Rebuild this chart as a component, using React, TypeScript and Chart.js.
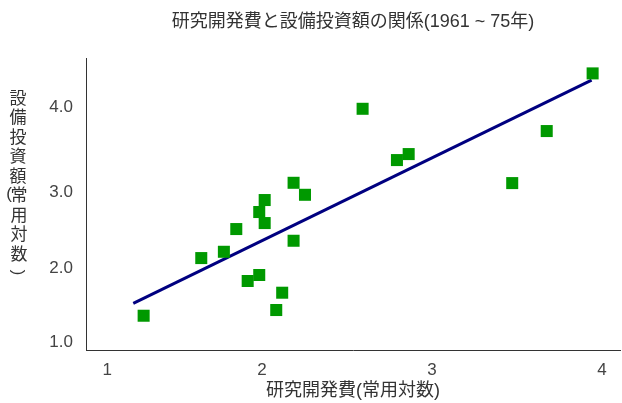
import React, { useEffect, useRef } from "react";
import { Chart, registerables } from "chart.js";

Chart.register(...registerables);

// 研究開発費 (常用対数) — x values of the scatter points
const rdLog = [
  1.304, 1.643, 1.776, 1.849, 1.916, 1.984, 1.984, 2.016, 2.016, 2.084,
  2.119, 2.186, 2.186, 2.253, 2.592, 2.794, 2.863, 3.472, 3.675, 3.945,
];
// 設備投資額 (常用対数) — y values of the scatter points
const capexLog = [
  1.364, 2.133, 2.217, 2.52, 1.827, 1.907, 2.747, 2.6, 2.907, 1.44,
  1.671, 3.137, 2.364, 2.977, 4.124, 3.44, 3.52, 3.133, 3.827, 4.596,
];
// regression line end points
const fitX = [1.243, 3.939];
const fitY = [1.529, 4.507];

// tick values and labels
const xTickValues = [1.09, 2, 3, 4];
const xTickLabels = ["1", "2", "3", "4"];
const yTickValues = [1.01, 2, 3.01, 4.15];
const yTickLabels = ["1.0", "2.0", "3.0", "4.0"];
const xRange = [0.965, 4.106];
const yRange = [0.907, 4.8];

const titleText = "研究開発費と設備投資額の関係(1961 ~ 75年)";
const xTitleText = "研究開発費(常用対数)";
const yTitleHead = ["設", "備", "投", "資", "額"];
const yTitleTail = ["常", "用", "対", "数"];

const FONT = "'Liberation Sans', 'Noto Sans CJK JP', sans-serif";

const verticalTitle = {
  id: "verticalTitle",
  afterDraw(chart: any) {
    const ctx = chart.ctx;
    ctx.save();
    ctx.fillStyle = "#333";
    ctx.font = "17px " + FONT;
    ctx.textAlign = "center";
    ctx.textBaseline = "middle";
    const x = 18;
    const y0 = 99;
    const step = 19.5;
    yTitleHead.forEach((c, i) => ctx.fillText(c, x, y0 + i * step));
    // opening parenthesis, squeezed in at the left of the next character
    ctx.fillText("(", 9, y0 + 5 * step - 2);
    yTitleTail.forEach((c, i) => ctx.fillText(c, x + 1, y0 + (5 + i) * step));
    // closing parenthesis, rotated
    ctx.save();
    ctx.translate(x, y0 + 8.9 * step);
    ctx.rotate(Math.PI / 2);
    ctx.fillText(")", 0, 0);
    ctx.restore();
    ctx.restore();
  },
};

export default function App() {
  const ref = useRef<HTMLCanvasElement | null>(null);

  useEffect(() => {
    if (!ref.current) return;
    const points = rdLog.map((x, i) => ({ x, y: capexLog[i] }));
    const fit = fitX.map((x, i) => ({ x, y: fitY[i] }));
    const chart = new Chart(ref.current, {
      type: "scatter",
      data: {
        datasets: [
          {
            data: points,
            pointStyle: "rect",
            pointRadius: 8.5,
            pointHoverRadius: 8.5,
            backgroundColor: "#009900",
            borderColor: "#009900",
            borderWidth: 0,
          },
          {
            type: "line",
            data: fit,
            borderColor: "#000080",
            borderWidth: 3,
            pointRadius: 0,
            showLine: true,
            fill: false,
          } as any,
        ],
      },
      options: {
        animation: false,
        responsive: false,
        events: [],
        layout: { autoPadding: false, padding: { left: 0, right: 2, top: 0, bottom: 0 } },
        plugins: {
          legend: { display: false },
          tooltip: { enabled: false },
          title: {
            display: true,
            text: titleText,
            fullSize: false,
            color: "#333",
            font: { family: FONT, size: 18, weight: "normal" },
            padding: { top: 11.5, bottom: 25 },
          },
        },
        scales: {
          x: {
            type: "linear",
            min: xRange[0],
            max: xRange[1],
            grid: { display: false, drawTicks: false },
            border: { display: true, color: "#333", width: 1 },
            afterBuildTicks: (s: any) => {
              s.ticks = xTickValues.map((v) => ({ value: v }));
            },
            afterFit: (s: any) => {
              s.height = 53;
              s.paddingLeft = 0;
              s.paddingRight = 0;
            },
            ticks: {
              autoSkip: false,
              maxRotation: 0,
              padding: 10,
              color: "#444",
              font: { family: FONT, size: 17 },
              callback: (_v: any, i: number) => xTickLabels[i],
            },
            title: {
              display: true,
              text: xTitleText,
              color: "#333",
              font: { family: FONT, size: 18 },
              padding: { top: 0, bottom: 1 },
            },
          },
          y: {
            type: "linear",
            min: yRange[0],
            max: yRange[1],
            grid: { display: false, drawTicks: false },
            border: { display: true, color: "#333", width: 1 },
            afterBuildTicks: (s: any) => {
              s.ticks = yTickValues.map((v) => ({ value: v }));
            },
            afterFit: (s: any) => {
              s.width = 86;
              s.paddingTop = 0;
              s.paddingBottom = 0;
            },
            ticks: {
              autoSkip: false,
              padding: 13,
              color: "#444",
              font: { family: FONT, size: 17 },
              callback: (_v: any, i: number) => yTickLabels[i],
            },
          },
        },
      },
      plugins: [verticalTitle],
    });
    return () => chart.destroy();
  }, []);

  return (
    <div
      style={{
        position: "fixed",
        left: 0,
        top: 0,
        width: 622,
        height: 403,
        background: "#fff",
      }}
    >
      <canvas ref={ref} width={622} height={403} style={{ display: "block" }} />
    </div>
  );
}
